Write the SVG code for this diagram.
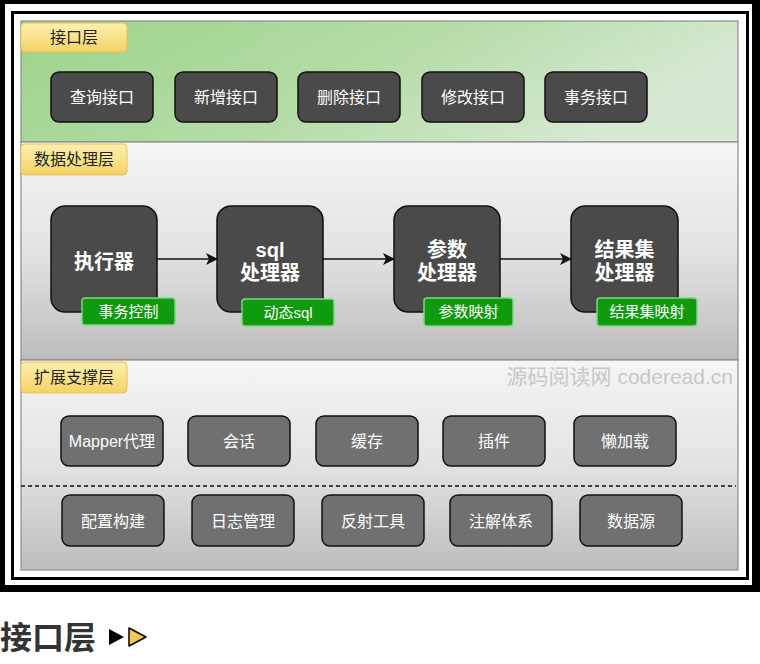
<svg xmlns="http://www.w3.org/2000/svg" width="760" height="664" viewBox="0 0 760 664">
  <defs>
    <linearGradient id="gGreen" x1="0" y1="0" x2="1" y2="0.3">
      <stop offset="0" stop-color="#9dd38a"/>
      <stop offset="0.55" stop-color="#b4dca6"/>
      <stop offset="1" stop-color="#d7e9d3"/>
    </linearGradient>
    <linearGradient id="gGray" x1="0" y1="0" x2="0" y2="1">
      <stop offset="0" stop-color="#f5f5f5"/>
      <stop offset="0.5" stop-color="#e3e3e3"/>
      <stop offset="1" stop-color="#bdbdbd"/>
    </linearGradient>
    <linearGradient id="gTab" x1="0" y1="0" x2="0" y2="1">
      <stop offset="0" stop-color="#fff0b0"/>
      <stop offset="1" stop-color="#f6d266"/>
    </linearGradient>
    <marker id="arr" viewBox="0 0 12 12" refX="11" refY="6" markerWidth="12" markerHeight="12" markerUnits="userSpaceOnUse" orient="auto">
      <path d="M0,0 L12,6 L0,12 L3,6 Z" fill="#111"/>
    </marker>
    <style>
      text { font-family: "Liberation Sans", "Noto Sans CJK SC", sans-serif; }
      .panel { stroke: #8c8c8c; stroke-width: 1.2; }
      .tab { fill: url(#gTab); stroke: #e8c25a; stroke-width: 1; }
      .tabt { fill: #222; font-size: 16px; text-anchor: middle; }
      .n1 { fill: #4a4a4a; stroke: #111; stroke-width: 1.5; }
      .n1t { fill: #fff; font-size: 16px; text-anchor: middle; }
      .n2 { fill: #4a4a4a; stroke: #111; stroke-width: 1.5; }
      .n2t { fill: #fff; font-size: 20px; font-weight: bold; text-anchor: middle; }
      .tag { fill: #109a10; stroke: #7fd67f; stroke-width: 1.5; }
      .tagt { fill: #fff; font-size: 15px; text-anchor: middle; }
      .n3 { fill: #707070; stroke: #111; stroke-width: 1.5; }
      .n3t { fill: #fff; font-size: 16px; text-anchor: middle; }
      .conn { stroke: #111; stroke-width: 1.5; fill: none; }
    </style>
  </defs>

  <!-- frame -->
  <rect x="0" y="0" width="760" height="592" fill="#000"/>
  <rect x="5" y="4" width="747" height="581" fill="#fff"/>
  <rect x="12.5" y="12.5" width="735" height="566" fill="#fff" stroke="#000" stroke-width="3"/>

  <!-- panels -->
  <g id="layer-interface">
    <rect class="panel" x="21" y="21" width="717" height="121" fill="url(#gGreen)"/>
    <rect class="tab" x="21" y="23" width="106" height="29" rx="4"/>
    <text class="tabt" x="74" y="43">接口层</text>
  </g>
  <g id="layer-data">
    <rect class="panel" x="21" y="142" width="717" height="218" fill="url(#gGray)"/>
    <rect class="tab" x="21" y="144" width="106" height="31" rx="4"/>
    <text class="tabt" x="74" y="165">数据处理层</text>
  </g>
  <g id="layer-ext">
    <rect class="panel" x="21" y="360" width="717" height="210" fill="url(#gGray)"/>
    <rect class="tab" x="21" y="362" width="106" height="31" rx="4"/>
    <text class="tabt" x="74" y="383">扩展支撑层</text>
    <text x="733" y="384" fill="#c8c8c8" font-size="21" text-anchor="end">源码阅读网 coderead.cn</text>
    <line x1="21" y1="486" x2="736" y2="486" stroke="#111" stroke-width="1.5" stroke-dasharray="4,3"/>
  </g>

  <!-- interface nodes -->
  <g id="n-query"><rect class="n1" x="51" y="72" width="102" height="50" rx="8"/><text class="n1t" x="102" y="103">查询接口</text></g>
  <g id="n-add"><rect class="n1" x="175" y="72" width="102" height="50" rx="8"/><text class="n1t" x="226" y="103">新增接口</text></g>
  <g id="n-del"><rect class="n1" x="298" y="72" width="102" height="50" rx="8"/><text class="n1t" x="349" y="103">删除接口</text></g>
  <g id="n-mod"><rect class="n1" x="422" y="72" width="102" height="50" rx="8"/><text class="n1t" x="473" y="103">修改接口</text></g>
  <g id="n-tx"><rect class="n1" x="545" y="72" width="102" height="50" rx="8"/><text class="n1t" x="596" y="103">事务接口</text></g>

  <!-- connectors -->
  <g id="connectors">
    <line class="conn" x1="157" y1="259" x2="217" y2="259" marker-end="url(#arr)"/>
    <line class="conn" x1="323" y1="259" x2="394" y2="259" marker-end="url(#arr)"/>
    <line class="conn" x1="500" y1="259" x2="571" y2="259" marker-end="url(#arr)"/>
  </g>

  <!-- data processing nodes -->
  <g id="n-exec">
    <rect class="n2" x="51" y="206" width="106" height="106" rx="14"/>
    <text class="n2t" x="104" y="269">执行器</text>
    <rect class="tag" x="82" y="298" width="93" height="27" rx="3"/>
    <text class="tagt" x="128.5" y="317">事务控制</text>
  </g>
  <g id="n-sql">
    <rect class="n2" x="217" y="206" width="106" height="106" rx="14"/>
    <text class="n2t" x="270" y="257">sql</text>
    <text class="n2t" x="270" y="280">处理器</text>
    <rect class="tag" x="242" y="299" width="92" height="27" rx="3"/>
    <text class="tagt" x="288" y="318">动态sql</text>
  </g>
  <g id="n-param">
    <rect class="n2" x="394" y="206" width="106" height="106" rx="14"/>
    <text class="n2t" x="447" y="257">参数</text>
    <text class="n2t" x="447" y="280">处理器</text>
    <rect class="tag" x="424" y="298" width="89" height="28" rx="3"/>
    <text class="tagt" x="468.5" y="317">参数映射</text>
  </g>
  <g id="n-result">
    <rect class="n2" x="571" y="206" width="107" height="106" rx="14"/>
    <text class="n2t" x="624.5" y="257">结果集</text>
    <text class="n2t" x="624.5" y="280">处理器</text>
    <rect class="tag" x="597" y="298" width="100" height="28" rx="3"/>
    <text class="tagt" x="647" y="317">结果集映射</text>
  </g>

  <!-- extension nodes row 1 -->
  <g id="n-mapper"><rect class="n3" x="61" y="416" width="102" height="50" rx="8"/><text class="n3t" x="112" y="447">Mapper代理</text></g>
  <g id="n-session"><rect class="n3" x="188" y="416" width="102" height="50" rx="8"/><text class="n3t" x="239" y="447">会话</text></g>
  <g id="n-cache"><rect class="n3" x="316" y="416" width="102" height="50" rx="8"/><text class="n3t" x="367" y="447">缓存</text></g>
  <g id="n-plugin"><rect class="n3" x="443" y="416" width="102" height="50" rx="8"/><text class="n3t" x="494" y="447">插件</text></g>
  <g id="n-lazy"><rect class="n3" x="574" y="416" width="102" height="50" rx="8"/><text class="n3t" x="625" y="447">懒加载</text></g>

  <!-- extension nodes row 2 -->
  <g id="n-config"><rect class="n3" x="62" y="495" width="102" height="51" rx="8"/><text class="n3t" x="113" y="527">配置构建</text></g>
  <g id="n-log"><rect class="n3" x="192" y="495" width="102" height="51" rx="8"/><text class="n3t" x="243" y="527">日志管理</text></g>
  <g id="n-reflect"><rect class="n3" x="322" y="495" width="102" height="51" rx="8"/><text class="n3t" x="373" y="527">反射工具</text></g>
  <g id="n-anno"><rect class="n3" x="450" y="495" width="102" height="51" rx="8"/><text class="n3t" x="501" y="527">注解体系</text></g>
  <g id="n-ds"><rect class="n3" x="580" y="495" width="102" height="51" rx="8"/><text class="n3t" x="631" y="527">数据源</text></g>

  <!-- caption -->
  <g id="caption">
    <text x="0" y="649" fill="#333" font-size="32" font-weight="bold">接口层</text>
    <polygon points="109,629 124,637 109,645" fill="#000"/>
    <polygon points="129,628 146,637 129,646" fill="#f5c850" stroke="#000" stroke-width="1.5" stroke-linejoin="round"/>
  </g>
</svg>
